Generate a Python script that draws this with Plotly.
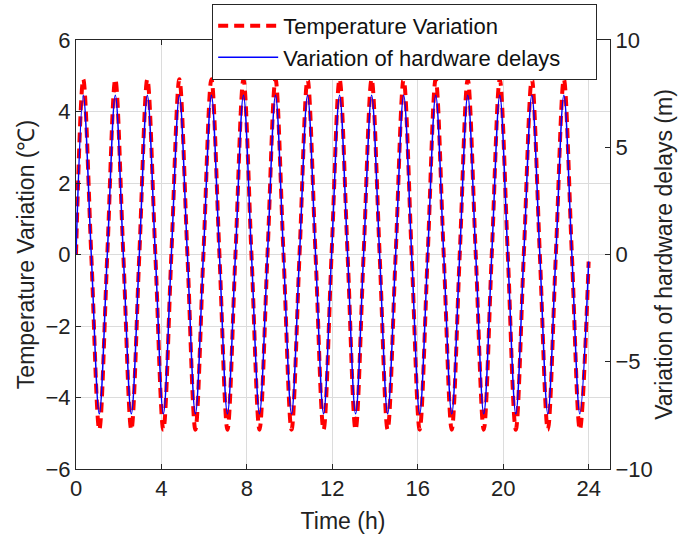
import plotly.graph_objects as go

# Time samples (h): start, then peaks / zero-crossings / troughs
time_h = [0.0, 0.34, 0.715, 1.09, 1.465, 1.84, 2.215, 2.59, 2.965, 3.34, 3.715, 4.09, 4.465,
          4.84, 5.215, 5.59, 5.965, 6.34, 6.715, 7.09, 7.465, 7.84, 8.215, 8.59, 8.965,
          9.34, 9.715, 10.09, 10.465, 10.84, 11.215, 11.59, 11.965, 12.34, 12.715, 13.09,
          13.465, 13.84, 14.215, 14.59, 14.965, 15.34, 15.715, 16.09, 16.465, 16.84,
          17.215, 17.59, 17.965, 18.34, 18.715, 19.09, 19.465, 19.84, 20.215, 20.59,
          20.965, 21.34, 21.715, 22.09, 22.465, 22.84, 23.215, 23.59, 24.0]

# Temperature variation (deg C), left axis
temp_var = [0.0,
            4.9, 0.0, -4.9, 0.0, 4.9, 0.0, -4.9, 0.0, 4.9, 0.0, -4.9, 0.0,
            4.9, 0.0, -4.9, 0.0, 4.9, 0.0, -4.9, 0.0, 4.9, 0.0, -4.9, 0.0,
            4.9, 0.0, -4.9, 0.0, 4.9, 0.0, -4.9, 0.0, 4.9, 0.0, -4.9, 0.0,
            4.9, 0.0, -4.9, 0.0, 4.9, 0.0, -4.9, 0.0, 4.9, 0.0, -4.9, 0.0,
            4.9, 0.0, -4.9, 0.0, 4.9, 0.0, -4.9, 0.0, 4.9, 0.0, -4.9, 0.0,
            4.9, 0.0, -4.9, -0.2]

# Variation of hardware delays (m), right axis
delay_var = [0.0,
             7.43, 0.0, -7.43, 0.0, 7.43, 0.0, -7.43, 0.0, 7.43, 0.0, -7.43, 0.0,
             7.43, 0.0, -7.43, 0.0, 7.43, 0.0, -7.43, 0.0, 7.43, 0.0, -7.43, 0.0,
             7.43, 0.0, -7.43, 0.0, 7.43, 0.0, -7.43, 0.0, 7.43, 0.0, -7.43, 0.0,
             7.43, 0.0, -7.43, 0.0, 7.43, 0.0, -7.43, 0.0, 7.43, 0.0, -7.43, 0.0,
             7.43, 0.0, -7.43, 0.0, 7.43, 0.0, -7.43, 0.0, 7.43, 0.0, -7.43, 0.0,
             7.43, 0.0, -7.43, -0.33]

x_ticks = [0, 4, 8, 12, 16, 20, 24]
y_left_ticks = [-6, -4, -2, 0, 2, 4, 6]
y_right_ticks = [-10, -5, 0, 5, 10]

FONT = "Arial, Liberation Sans, sans-serif"
AX = "#262626"
GRID = "#dcdcdc"
PAD = "\u00a0" * 5

fig = go.Figure()
fig.add_trace(go.Scatter(
    x=time_h, y=temp_var, mode="lines", name="Temperature Variation",
    line=dict(color="#ff0000", width=4, dash="10px,6px", shape="spline"),
    yaxis="y"))
fig.add_trace(go.Scatter(
    x=time_h, y=delay_var, mode="lines", name="Variation of hardware delays" + PAD,
    line=dict(color="#0000ff", width=1.5, shape="spline"),
    yaxis="y2"))

fig.update_layout(
    width=688, height=544,
    margin=dict(l=76, r=78, t=40, b=75, autoexpand=False),
    paper_bgcolor="white", plot_bgcolor="white",
    font=dict(family=FONT, size=22, color="#222222"),
    showlegend=True,
    legend=dict(
        x=0.255, y=1.084, xanchor="left", yanchor="top",
        bgcolor="white", bordercolor="#262626", borderwidth=1,
        font=dict(size=22, family=FONT, color="#111111"),
        tracegroupgap=0, itemwidth=60,
    ),
    xaxis=dict(
        range=[0, 25], tickvals=x_ticks, ticks="inside", ticklen=5, tickcolor=AX,
        showline=True, linecolor=AX, linewidth=1, mirror="ticks",
        showgrid=True, gridcolor=GRID, zeroline=False,
        title=dict(text="Time (h)", font=dict(size=23), standoff=12),
        tickfont=dict(size=22),
    ),
    yaxis=dict(
        range=[-6, 6], tickvals=y_left_ticks, ticks="inside", ticklen=5, tickcolor=AX,
        showline=True, linecolor=AX, linewidth=1,
        showgrid=True, gridcolor=GRID, zeroline=False,
        title=dict(text="Temperature Variation (℃)", font=dict(size=23), standoff=4),
        tickfont=dict(size=22),
    ),
    yaxis2=dict(
        range=[-10, 10], tickvals=y_right_ticks, ticks="inside", ticklen=5, tickcolor=AX,
        overlaying="y", side="right",
        showline=True, linecolor=AX, linewidth=1,
        showgrid=False, zeroline=False,
        title=dict(text="Variation of hardware delays (m)", font=dict(size=23), standoff=4),
        tickfont=dict(size=22),
    ),
)

fig.write_html("out.html")
